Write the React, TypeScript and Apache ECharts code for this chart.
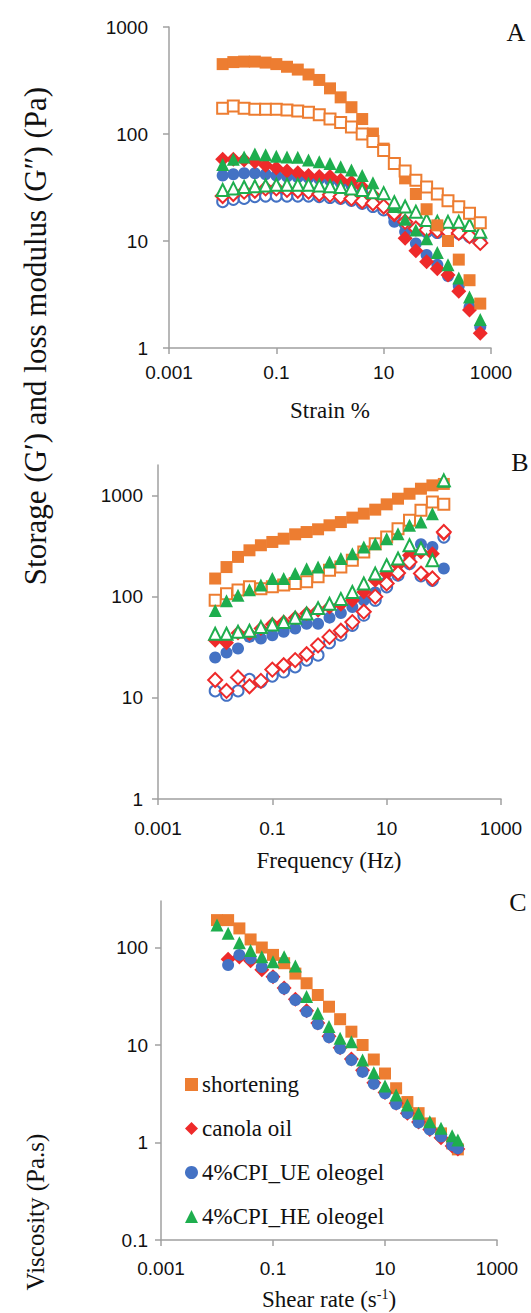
import React, { useEffect, useRef } from 'react';
import * as echarts from 'echarts';

// ---------- data ----------
const strainA = [0.01, 0.0158, 0.0251, 0.0398, 0.0631, 0.1, 0.158, 0.251, 0.398, 0.631, 1, 1.58, 2.51, 3.98, 6.31, 10, 15.8, 25.1, 39.8, 63.1, 100, 158, 251, 398, 631];
const aShortStorage = [450, 470, 475, 475, 465, 450, 425, 400, 360, 320, 267, 220, 178, 138, 101, 73, 53, 38.5, 27.5, 19.8, 14, 10, 6.7, 4.3, 2.6];
const aShortLoss = [174, 183, 174, 170, 170, 170, 168, 164, 160, 151, 138, 128, 116, 100, 85, 70, 53, 45, 37, 32, 27.5, 23.8, 20.9, 18.2, 14.8];
const aCanolaStorage = [58, 58, 57, 55, 51, 48, 45, 43.5, 41, 40, 40, 37, 35.5, 32, 27, 21, 17.5, 10.6, 8.1, 6.4, 5.5, 4.8, 3.4, 2.26, 1.37];
const aCanolaLoss = [26.3, 27.5, 28.9, 29.5, 31, 31, 30, 29.5, 28.9, 27.5, 27, 26, 25, 23.5, 22.5, 21, 18.2, 15.1, 13.1, 12.7, 12.5, 12.2, 11.9, 11.1, 9.6];
const aUEStorage = [41, 42, 43, 43, 42, 41, 40, 39.5, 39, 38, 37, 35, 33, 29, 25, 20, 15.1, 12.2, 9.5, 7.4, 6.0, 4.7, 3.8, 2.4, 1.58];
const aUELoss = [23.3, 24.5, 25, 26, 26.3, 26.3, 26.3, 26.3, 26.3, 26, 25.5, 25, 24, 22.5, 21, 19.5, 17, 14.5, 13, 12.2, 12, 12, 11.8, 11, 9.8];
const aHEStorage = [52, 58, 61, 65, 64, 62, 61, 60.5, 57, 55, 53, 49.5, 46, 41, 35, 28, 21, 16, 12.7, 10.5, 7.8, 6, 4.5, 3.0, 1.85];
const aHELoss = [30, 31, 32, 32.5, 33, 33.5, 33.5, 33.5, 33.5, 33, 32.5, 32, 31, 30, 28.5, 28, 23, 21, 18.8, 15.7, 15.1, 15.1, 15.1, 14.1, 12.2];

const freqB = [0.01, 0.0158, 0.0251, 0.0398, 0.0631, 0.1, 0.158, 0.251, 0.398, 0.631, 1, 1.58, 2.51, 3.98, 6.31, 10, 15.8, 25.1, 39.8, 63.1, 100];
const bShortStorage = [151, 196, 247, 287, 322, 347, 374, 413, 435, 463, 507, 546, 604, 661, 724, 817, 929, 1040, 1166, 1259, 1300];
const bShortLoss = [92, 107, 116, 125, 120, 125, 130, 135, 140, 157, 182, 196, 229, 276, 334, 388, 470, 568, 713, 861, 817];
const bCanolaStorage = [37, 35, 43.8, 43, 48.4, 53.4, 56.3, 62, 68, 73.4, 79, 84, 92, 111, 145, 169, 204, 256, 276, 266, 420];
const bCanolaLoss = [15, 11.7, 15.9, 13, 14.7, 19, 21, 23.6, 27, 33, 40, 46, 56, 71, 100, 135, 171, 220, 169, 151, 435];
const bUEStorage = [25, 28, 30.7, 40, 38.6, 41.6, 45, 48.4, 54, 54, 62, 69, 79, 92, 110, 140, 170, 240, 330, 310, 190];
const bUELoss = [11.7, 10.6, 11.7, 15.2, 14.4, 16.4, 18, 20.2, 23.6, 26.4, 35, 41.6, 52, 65.5, 92, 125, 163, 212, 160, 145, 388];
const bHEStorage = [73, 91, 103, 117, 130, 151, 151, 169, 189, 196, 220, 238, 266, 310, 334, 374, 419, 507, 546, 661, 1380];
const bHELoss = [43, 43, 45, 46, 50, 53, 56, 62, 68, 77, 85, 95, 111, 135, 169, 204, 238, 322, 300, 229, 1410];

const shearC = [0.01, 0.0158, 0.0251, 0.0398, 0.0631, 0.1, 0.158, 0.251, 0.398, 0.631, 1, 1.58, 2.51, 3.98, 6.31, 10, 15.8, 25.1, 39.8, 63.1, 100, 158, 200];
const cShort = [191, 191, 157, 121, 100, 84, 69, 54, 43, 32.6, 24.7, 18.4, 13.7, 10, 7.1, 5.1, 3.6, 2.6, 2.0, 1.57, 1.24, 0.98, 0.85];
const cCanola = [null, 76, 80, 73, 59, 50, 38.5, 29.5, 22.5, 16.8, 12.3, 9.4, 7.2, 5.5, 4.1, 3.25, 2.52, 2.0, 1.62, 1.36, 1.12, 0.92, 0.86];
const cUE = [null, 66, 84, 77, 63, 49.5, 38, 29, 22, 16.4, 12, 9.2, 7.0, 5.3, 4.0, 3.2, 2.48, 2.0, 1.6, 1.36, 1.15, 0.94, 0.87];
const cHE = [170, 140, 112, 93, 80.5, 71.5, 80.5, 64.5, 31.4, 21.2, 15.5, 11.7, 10.8, 7.0, 5.2, 3.8, 3.07, 2.43, 2.0, 1.63, 1.4, 1.17, 1.06];

const xTicks = [0.001, 0.1, 10, 1000];
const yTicksAB = [1, 10, 100, 1000];
const yTicksC = [0.1, 1, 10, 100];
const legendNames = ['shortening', 'canola oil', '4%CPI_UE oleogel', '4%CPI_HE oleogel'];

// ---------- styling ----------
const ORANGE = '#ED7D31';
const RED = '#EE2A2A';
const BLUE = '#4472C4';
const GREEN = '#1EAE4E';
const AXIS = '#A0A0A0';
const SANS = 'Liberation Sans';
const SERIF = 'Liberation Serif';

const fmt = (v: number) => String(Number(Number(v).toPrecision(6)));

function zip(xs: number[], ys: (number | null)[]) {
  const out: number[][] = [];
  xs.forEach((x, i) => {
    const y = ys[i];
    if (y != null) out.push([x, y]);
  });
  return out;
}

function logAxis(gridIndex: number, min: number, max: number, ticks: number[], margin: number) {
  return {
    type: 'log',
    logBase: 10,
    gridIndex,
    min,
    max,
    axisLine: { show: true, onZero: false, lineStyle: { color: AXIS, width: 1.5 } },
    axisTick: { show: true, length: 6, customValues: ticks, lineStyle: { color: AXIS, width: 1.5 } },
    axisLabel: {
      margin,
      customValues: ticks,
      formatter: fmt,
      fontFamily: SANS,
      fontSize: 19,
      color: '#111',
    },
    splitLine: { show: false },
    minorTick: { show: false },
    minorSplitLine: { show: false },
  };
}

type Sym = 'rect' | 'diamond' | 'circle' | 'triangle';
const symSize: Record<Sym, number> = { rect: 12, diamond: 15, circle: 12, triangle: 13 };

function sc(name: string, idx: number, data: number[][], symbol: Sym, color: string, open: boolean) {
  return {
    type: 'scatter',
    name,
    xAxisIndex: idx,
    yAxisIndex: idx,
    data,
    symbol,
    symbolSize: open ? symSize[symbol] - 1 : symSize[symbol],
    silent: true,
    itemStyle: open
      ? { color: '#ffffff', borderColor: color, borderWidth: 2, opacity: 1 }
      : { color, opacity: 1 },
  };
}

function label(text: string, x: number, y: number, size: number, rotation = 0, rich?: any) {
  return {
    type: 'text',
    x,
    y,
    rotation,
    silent: true,
    style: {
      text,
      fontFamily: SERIF,
      fontSize: size,
      fill: '#111',
      align: 'center',
      verticalAlign: 'middle',
      ...(rich ? { rich } : {}),
    },
  };
}

export default function App() {
  const ref = useRef<HTMLDivElement>(null);
  useEffect(() => {
    if (!ref.current) return;
    const chart = echarts.init(ref.current, undefined, { renderer: 'svg' });
    const option: any = {
      animation: false,
      backgroundColor: '#ffffff',
      grid: [
        { left: 169, top: 27, width: 322, height: 321 },
        { left: 158, top: 465, width: 343, height: 334 },
        { left: 161, top: 901, width: 336, height: 339 },
      ],
      xAxis: [
        logAxis(0, 0.001, 1000, xTicks, 15),
        logAxis(1, 0.001, 1000, xTicks, 20),
        logAxis(2, 0.001, 1000, xTicks, 19),
      ],
      yAxis: [
        logAxis(0, 1, 1000, yTicksAB, 21),
        logAxis(1, 1, 2000, yTicksAB, 15),
        logAxis(2, 0.1, 300, yTicksC, 13),
      ],
      legend: {
        show: true,
        orient: 'vertical',
        left: 180,
        top: 1068,
        itemGap: 21,
        itemWidth: 13,
        itemHeight: 13,
        selectedMode: false,
        data: legendNames,
        textStyle: { fontFamily: SERIF, fontSize: 23, color: '#111', padding: [0, 0, 0, -1] },
      },
      series: [
        // Panel A (amplitude sweep)
        sc('A UE G1', 0, zip(strainA, aUEStorage), 'circle', BLUE, false),
        sc('A UE G2', 0, zip(strainA, aUELoss), 'circle', BLUE, true),
        sc('A canola G1', 0, zip(strainA, aCanolaStorage), 'diamond', RED, false),
        sc('A canola G2', 0, zip(strainA, aCanolaLoss), 'diamond', RED, true),
        sc('A HE G1', 0, zip(strainA, aHEStorage), 'triangle', GREEN, false),
        sc('A HE G2', 0, zip(strainA, aHELoss), 'triangle', GREEN, true),
        sc('A short G1', 0, zip(strainA, aShortStorage), 'rect', ORANGE, false),
        sc('A short G2', 0, zip(strainA, aShortLoss), 'rect', ORANGE, true),
        // Panel B (frequency sweep)
        sc('B short G1', 1, zip(freqB, bShortStorage), 'rect', ORANGE, false),
        sc('B short G2', 1, zip(freqB, bShortLoss), 'rect', ORANGE, true),
        sc('B UE G1', 1, zip(freqB, bUEStorage), 'circle', BLUE, false),
        sc('B UE G2', 1, zip(freqB, bUELoss), 'circle', BLUE, true),
        sc('B canola G1', 1, zip(freqB, bCanolaStorage), 'diamond', RED, false),
        sc('B canola G2', 1, zip(freqB, bCanolaLoss), 'diamond', RED, true),
        sc('B HE G1', 1, zip(freqB, bHEStorage), 'triangle', GREEN, false),
        sc('B HE G2', 1, zip(freqB, bHELoss), 'triangle', GREEN, true),
        // Panel C (viscosity)
        sc(legendNames[0], 2, zip(shearC, cShort), 'rect', ORANGE, false),
        sc(legendNames[1], 2, zip(shearC, cCanola), 'diamond', RED, false),
        sc(legendNames[2], 2, zip(shearC, cUE), 'circle', BLUE, false),
        sc(legendNames[3], 2, zip(shearC, cHE), 'triangle', GREEN, false),
      ],
      graphic: [
        label('A', 516, 32, 26),
        label('B', 520, 462, 26),
        label('C', 518, 902, 26),
        label('Strain %', 330, 410, 23),
        label('Frequency (Hz)', 329, 860, 23),
        label('Shear rate (s{sup|-1})', 329, 1299, 23, 0, {
          sup: { fontFamily: SERIF, fontSize: 14, verticalAlign: 'top', padding: [0, 0, 8, 0], fill: '#111' },
        }),
        label('Storage (G′) and loss modulus (G″) (Pa)', 35, 336, 31, Math.PI / 2),
        label('Viscosity (Pa.s)', 35, 1212, 25, Math.PI / 2),
      ],
    };
    chart.setOption(option);
    return () => chart.dispose();
  }, []);
  return <div ref={ref} style={{ position: 'absolute', left: 0, top: 0, width: 531, height: 1313, background: '#fff' }} />;
}
